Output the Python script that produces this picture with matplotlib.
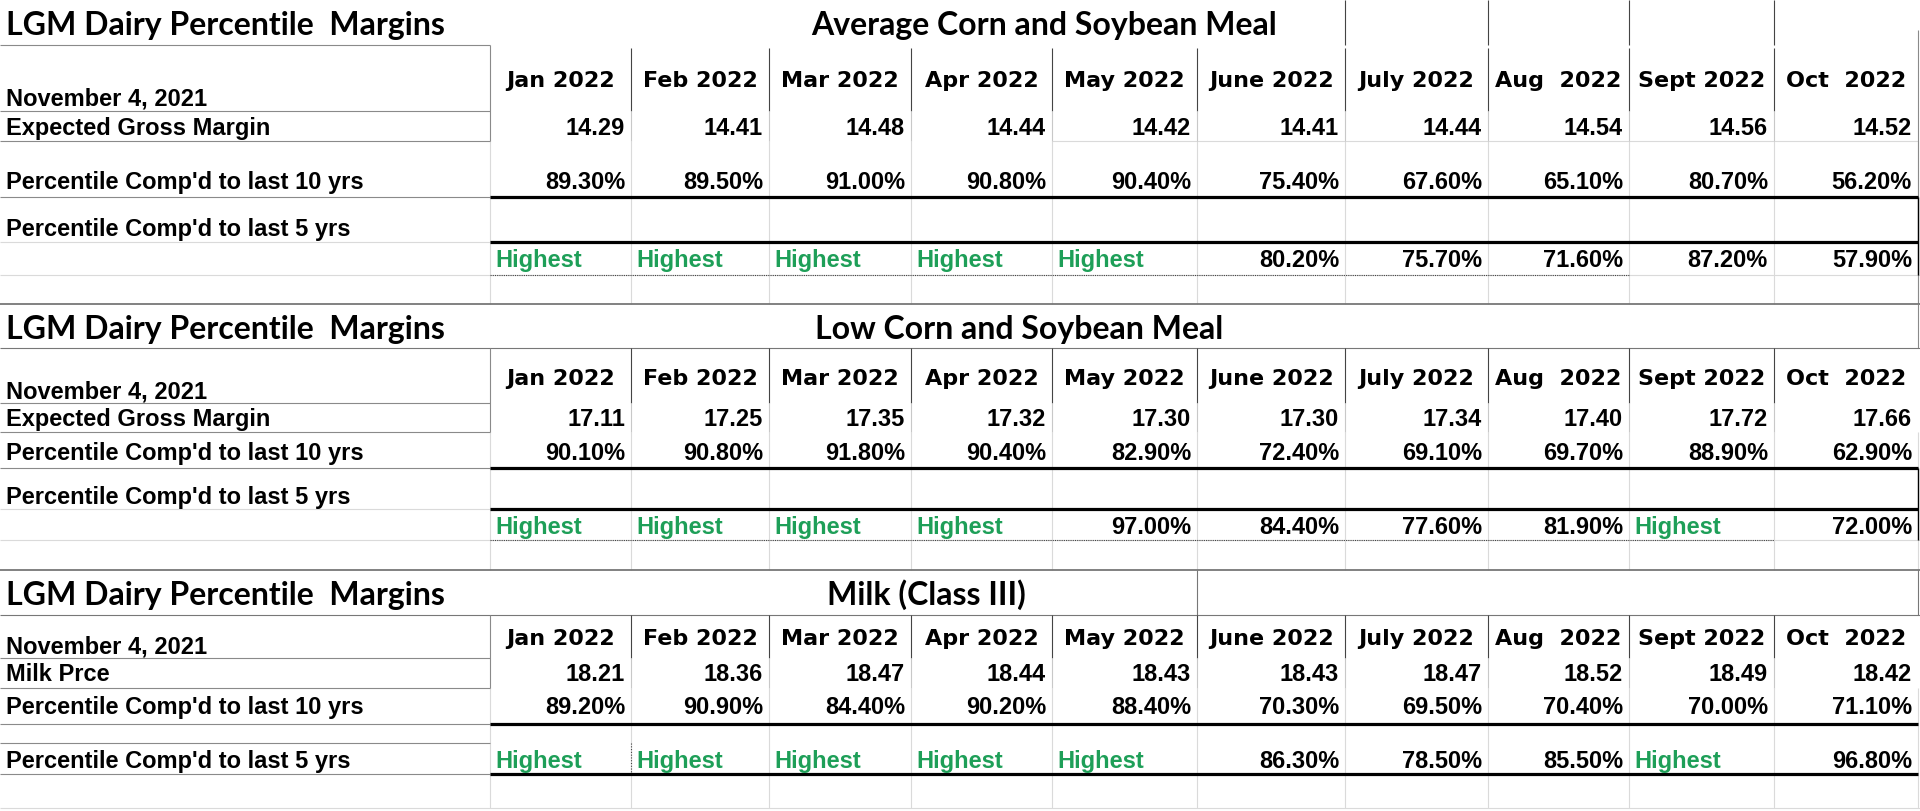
import matplotlib
matplotlib.use("Agg")
import matplotlib.pyplot as plt

# Datos de la hoja
months = ["Jan 2022", "Feb 2022", "Mar 2022", "Apr 2022", "May 2022",
          "June 2022", "July 2022", "Aug  2022", "Sept 2022", "Oct  2022"]
report_date = "November 4, 2021"
main_title = "LGM Dairy Percentile  Margins"
section_titles = ["Average Corn and Soybean Meal", "Low Corn and Soybean Meal", "Milk (Class III)"]

avg_margin = [14.29, 14.41, 14.48, 14.44, 14.42, 14.41, 14.44, 14.54, 14.56, 14.52]
avg_pct10 = [89.3, 89.5, 91.0, 90.8, 90.4, 75.4, 67.6, 65.1, 80.7, 56.2]
avg_pct5 = [None, None, None, None, None, 80.2, 75.7, 71.6, 87.2, 57.9]   # None = "Highest"

low_margin = [17.11, 17.25, 17.35, 17.32, 17.30, 17.30, 17.34, 17.40, 17.72, 17.66]
low_pct10 = [90.1, 90.8, 91.8, 90.4, 82.9, 72.4, 69.1, 69.7, 88.9, 62.9]
low_pct5 = [None, None, None, None, 97.0, 84.4, 77.6, 81.9, None, 72.0]

milk_price = [18.21, 18.36, 18.47, 18.44, 18.43, 18.43, 18.47, 18.52, 18.49, 18.42]
milk_pct10 = [89.2, 90.9, 84.4, 90.2, 88.4, 70.3, 69.5, 70.4, 70.0, 71.1]
milk_pct5 = [None, None, None, None, None, 86.3, 78.5, 85.5, None, 96.8]

# Geometria (pixeles)
edges = [490, 631, 769, 911, 1052, 1197, 1345, 1488, 1629, 1774, 1918]
W, H = 1920, 811
GREEN = "#1E9F58"
GRID = "#DADADA"
GRAY = "#8A8A8A"
DARK = "#444444"

fig = plt.figure(figsize=(W / 100, H / 100), dpi=100)
ax = fig.add_axes([0, 0, 1, 1])
ax.set_xlim(0, W)
ax.set_ylim(H, 0)
ax.axis("off")

BODY = ["Liberation Sans", "Arial", "DejaVu Sans"]
HEAD = ["DejaVu Sans"]
TITLE = ["Lato", "DejaVu Sans"]


def txt(x, yc, s, size=17, family=BODY, ha="left", color="black", cap=0.716):
    # yc = centro visual de las mayusculas -> linea base
    base = yc + cap * size * 100 / 72 / 2
    ax.text(x, base, s, fontsize=size, family=family, weight="bold",
            ha=ha, va="baseline", color=color)


def hl(y, x0, x1, color=GRAY, lw=0.8, ls="-"):
    ax.plot([x0, x1], [y, y], color=color, lw=lw, ls=ls, solid_capstyle="butt")


def vl(x, y0, y1, color=GRAY, lw=0.8, ls="-"):
    ax.plot([x, x], [y0, y1], color=color, lw=lw, ls=ls, solid_capstyle="butt")


def values_row(yc, vals, fmt):
    for i, v in enumerate(vals):
        if v is None:
            txt(edges[i] + 5, yc, "Highest", color=GREEN)
        else:
            txt(edges[i + 1] - 6, yc, fmt(v), size=17, ha="right")


def header_block(top, hdr_y, date_y, title, title_x):
    txt(6, top + 23, main_title, size=23, family=TITLE, cap=0.72)
    txt(title_x, top + 23, title, size=23, family=TITLE, ha="center", cap=0.72)
    for m, (a, b) in zip(months, zip(edges[:-1], edges[1:])):
        txt((a + b) / 2, hdr_y, m, size=16, family=HEAD, ha="center", cap=0.73)
    txt(6, date_y, report_date)


pct = lambda v: f"{v:.2f}%"
num = lambda v: f"{v:.2f}"

# ---------------- light grid in data area ----------------
for x in edges:
    vl(x, 141, 304, GRID)
    vl(x, 432, 570, GRID)
    vl(x, 688, 808, GRID)
for y in [275, 540, 808]:
    hl(y, 0, W, GRID)
hl(141, 1052, edges[-1], GRID)

# ---------------- Section 1 ----------------
header_block(0, 79, 97, section_titles[0], 1044)
for x in edges[6:10]:
    vl(x, 0, 45, DARK)
vl(edges[-1], 30, 304, GRAY)
hl(45, 0, 490)
hl(111, 0, 490)
hl(141, 0, 490)
vl(490, 45, 141)
for x in edges[1:-1]:
    vl(x, 48, 111, DARK)
    vl(x, 111, 141, "#C8C8C8")
txt(6, 127, "Expected Gross Margin")
values_row(127, avg_margin, num)
txt(6, 181, "Percentile Comp'd to last 10 yrs")
values_row(181, avg_pct10, pct)
hl(197, 0, 490)
hl(197, 490, edges[-1], "black", 2.3)
txt(6, 228, "Percentile Comp'd to last 5 yrs")
hl(242, 0, 490, GRID)
hl(242, 490, edges[-1], "black", 2.3)
vl(edges[-1], 197, 275, "black", 1.0)
values_row(259, avg_pct5, pct)
hl(275, 490, edges[8], DARK, 0.8, (0, (1, 1)))
hl(304, 0, W, "#777777", 1.3)

# ---------------- Section 2 ----------------
header_block(304, 377, 390, section_titles[1], 1019)
vl(edges[-1], 304, 348)
hl(348, 0, W, "#777777")
hl(403, 0, 490)
hl(432, 0, 490)
vl(490, 348, 432)
for x in edges[1:-1]:
    vl(x, 348, 403, DARK)
    vl(x, 403, 432, "#C8C8C8")
txt(6, 418, "Expected Gross Margin")
values_row(418, low_margin, num)
txt(6, 452, "Percentile Comp'd to last 10 yrs")
values_row(452, low_pct10, pct)
hl(468, 0, 490)
hl(468, 490, edges[-1], "black", 2.3)
txt(6, 496, "Percentile Comp'd to last 5 yrs")
hl(509, 0, 490, GRID)
hl(509, 490, edges[-1], "black", 2.3)
vl(edges[-1], 468, 540, "black", 1.0)
values_row(526, low_pct5, pct)
hl(540, 490, edges[9], DARK, 0.8, (0, (1, 1)))
hl(570, 0, W, "#777777", 1.3)

# ---------------- Section 3 ----------------
header_block(570, 637, 645, section_titles[2], 926)
vl(edges[5], 570, 615, "#777777")
vl(edges[-1], 570, 615, "#777777")
hl(615, 0, W, "#777777")
hl(658, 0, 490)
hl(688, 0, 490)
vl(490, 615, 688)
for x in edges[1:-1]:
    vl(x, 615, 658, DARK)
    vl(x, 658, 688, "#C8C8C8")
txt(6, 673, "Milk Prce")
values_row(673, milk_price, num)
txt(6, 706, "Percentile Comp'd to last 10 yrs")
values_row(706, milk_pct10, pct)
hl(724, 0, 490)
hl(724, 490, edges[-1], "black", 2.3)
hl(743, 0, 490)
txt(6, 760, "Percentile Comp'd to last 5 yrs")
values_row(760, milk_pct5, pct)
vl(edges[1], 743, 774, DARK, 0.8, (0, (1, 1.5)))
hl(774, 0, 490)
hl(774, 490, edges[-1], "black", 2.3)

fig.savefig("out.png", dpi=100, facecolor="white")
